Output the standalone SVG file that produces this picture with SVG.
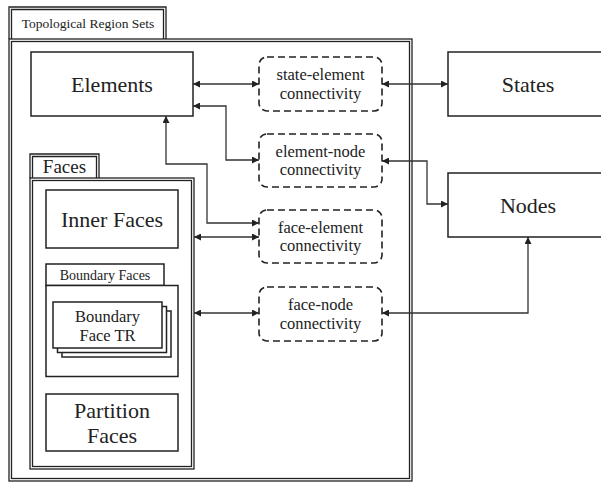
<svg xmlns="http://www.w3.org/2000/svg" width="601" height="483" viewBox="0 0 601 483">
<style>
  .box{fill:#fff;stroke:#222;stroke-width:1.5}
  .dl{fill:none;stroke:#222;stroke-width:1.3}
  .dash{fill:#fff;stroke:#222;stroke-width:1.6;stroke-dasharray:7 4}
  .c{fill:none;stroke:#333;stroke-width:1.3}
  text{font-family:"Liberation Serif","Times New Roman",serif;fill:#222;text-anchor:middle}
  .big{font-size:22px}
  .mid{font-size:16.5px}
  .sm{font-size:14px}
</style>
<defs>
  <marker id="ah" viewBox="0 0 10 10" refX="10" refY="5" markerWidth="7" markerHeight="7" markerUnits="userSpaceOnUse" orient="auto-start-reverse">
    <path d="M0,0 L10,5 L0,10 Z" fill="#222"/>
  </marker>
</defs>
<rect width="601" height="483" fill="#fff"/>

<g id="topological-region-sets">
  <path class="dl" d="M9,39 V7 H166 V39"/>
  <path class="dl" d="M11.5,39 V9.5 H163.5 V39"/>
  <rect class="dl" x="9" y="39" width="403" height="442"/>
  <rect class="dl" x="11.5" y="41.5" width="398" height="437"/>
  <text x="88" y="28" style="font-size:13.5px">Topological Region Sets</text>
</g>

<g id="elements">
  <rect class="box" x="31" y="52" width="162" height="64"/>
  <text class="big" x="112" y="91.5">Elements</text>
</g>

<g id="states">
  <rect class="box" x="448" y="52" width="170" height="64"/>
  <text class="big" x="528" y="91.5">States</text>
</g>

<g id="nodes">
  <rect class="box" x="448" y="173" width="170" height="64"/>
  <text class="big" x="528" y="212.5">Nodes</text>
</g>

<g id="state-element-connectivity">
  <rect class="dash" x="259" y="57" width="123" height="54" rx="8"/>
  <text class="mid" x="320.5" y="80">state-element</text>
  <text class="mid" x="320.5" y="98.5">connectivity</text>
</g>

<g id="element-node-connectivity">
  <rect class="dash" x="259" y="134" width="123" height="53" rx="8"/>
  <text class="mid" x="320.5" y="156.5">element-node</text>
  <text class="mid" x="320.5" y="175">connectivity</text>
</g>

<g id="face-element-connectivity">
  <rect class="dash" x="259" y="210" width="123" height="53" rx="8"/>
  <text class="mid" x="320.5" y="232.5">face-element</text>
  <text class="mid" x="320.5" y="251">connectivity</text>
</g>

<g id="face-node-connectivity">
  <rect class="dash" x="259" y="287" width="123" height="54" rx="8"/>
  <text class="mid" x="320.5" y="310">face-node</text>
  <text class="mid" x="320.5" y="328.5">connectivity</text>
</g>

<g id="faces">
  <path class="dl" d="M30,178 V154 H99 V178"/>
  <path class="dl" d="M32.5,178 V156.5 H96.5 V178"/>
  <rect class="dl" x="30" y="178" width="164" height="291"/>
  <rect class="dl" x="32.5" y="180.5" width="159" height="286"/>
  <text x="64.5" y="173" style="font-size:19px">Faces</text>
</g>

<g id="inner-faces">
  <rect class="box" x="46" y="190" width="132" height="58"/>
  <text class="big" x="112" y="226.5">Inner Faces</text>
</g>

<g id="boundary-faces">
  <rect class="box" x="46" y="264" width="118" height="21.5"/>
  <text class="sm" x="105" y="280">Boundary Faces</text>
  <rect class="box" x="46" y="285.5" width="132" height="91"/>
</g>

<g id="boundary-face-tr">
  <rect class="box" x="62" y="311" width="109" height="46"/>
  <rect class="box" x="57.5" y="306.5" width="109" height="46"/>
  <rect class="box" x="53" y="302" width="109" height="46"/>
  <text class="mid" x="107.5" y="322">Boundary</text>
  <text class="mid" x="107.5" y="340.5">Face TR</text>
</g>

<g id="partition-faces">
  <rect class="box" x="46" y="394" width="132" height="57"/>
  <text class="big" x="112" y="418">Partition</text>
  <text class="big" x="112" y="443">Faces</text>
</g>

<g id="connectors">
  <path class="c" d="M193,84 H259" marker-start="url(#ah)" marker-end="url(#ah)"/>
  <path class="c" d="M193,106 H226 V160 H259" marker-start="url(#ah)" marker-end="url(#ah)"/>
  <path class="c" d="M166,116 V164 H207 V223 H259" marker-start="url(#ah)" marker-end="url(#ah)"/>
  <path class="c" d="M194,237 H259" marker-start="url(#ah)" marker-end="url(#ah)"/>
  <path class="c" d="M194,313 H259" marker-start="url(#ah)" marker-end="url(#ah)"/>
  <path class="c" d="M382,84 H448" marker-start="url(#ah)" marker-end="url(#ah)"/>
  <path class="c" d="M382,161 H427 V204 H448" marker-start="url(#ah)" marker-end="url(#ah)"/>
  <path class="c" d="M382,313 H528 V237" marker-start="url(#ah)" marker-end="url(#ah)"/>
</g>
</svg>
